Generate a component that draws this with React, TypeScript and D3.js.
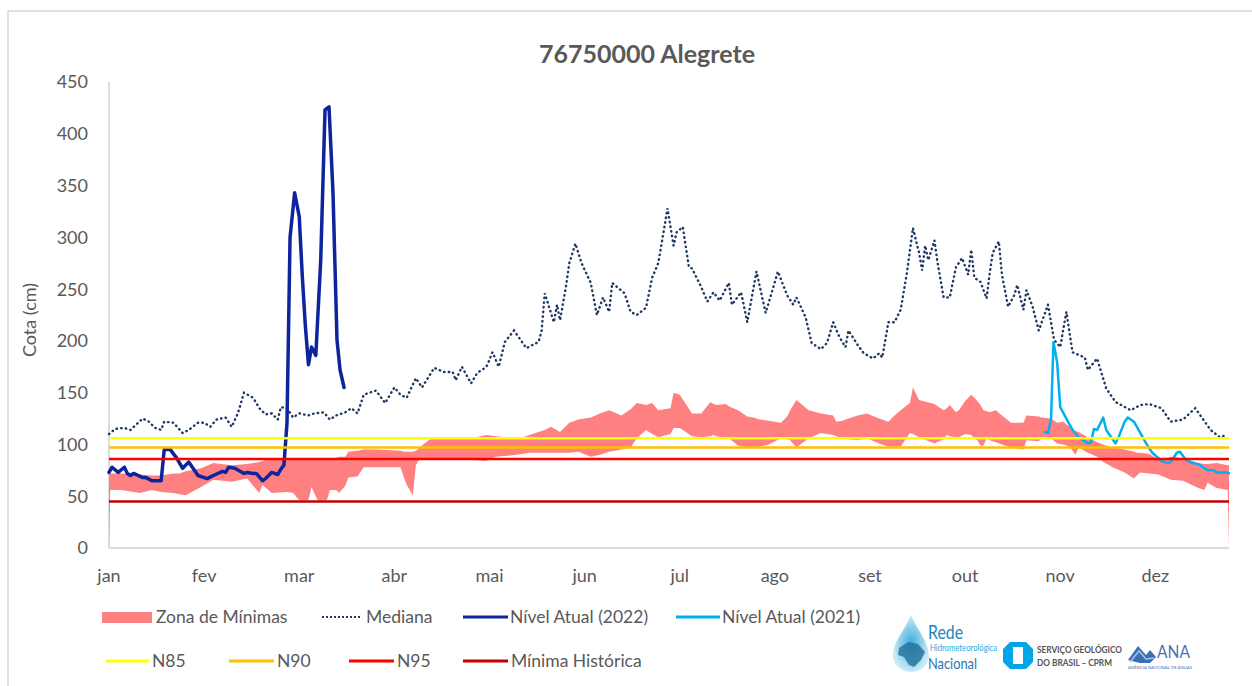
import React, { useEffect, useRef } from 'react';
import * as d3 from 'd3';

// month labels every 31 points, as on the original axis
const MONTHS = ['jan', 'fev', 'mar', 'abr', 'mai', 'jun', 'jul', 'ago', 'set', 'out', 'nov', 'dez'];
const Y_TICKS = [0, 50, 100, 150, 200, 250, 300, 350, 400, 450];

// reference levels (cm)
const N85 = 106;
const N90 = 97;
const N95 = 86;
const MINIMA_HISTORICA = 45;

// [day, value]
const MEDIANA: [number, number][] = [
  [0, 110], [2, 115], [5, 116], [7, 114], [11, 125], [13, 122], [15, 116], [17, 114], [18, 122], [21, 121],
  [24, 111], [26, 114], [29, 121], [31, 121], [33, 117], [35, 124], [38, 126], [40, 117], [42, 130], [44, 150],
  [47, 145], [49, 135], [51, 129], [53, 130], [55, 124], [56, 136], [58, 135], [60, 126], [62, 130], [65, 128],
  [67, 130], [70, 131], [72, 124], [74, 128], [77, 131], [79, 135], [81, 130], [83, 148], [87, 152], [90, 140],
  [93, 155], [95, 148], [97, 145], [100, 164], [102, 155], [106, 174], [109, 170], [112, 170], [113, 162], [115, 175],
  [118, 159], [120, 169], [123, 175], [125, 189], [127, 175], [129, 199], [132, 210], [136, 193], [140, 199], [141, 210],
  [142, 246], [145, 218], [146, 235], [147, 220], [149, 254], [150, 275], [152, 294], [154, 275], [157, 256], [159, 225],
  [161, 242], [163, 228], [164, 256], [168, 246], [170, 228], [172, 225], [175, 232], [177, 261], [179, 275], [181, 310],
  [182, 328], [184, 292], [185, 305], [187, 310], [189, 271], [190, 270], [193, 252], [195, 238], [197, 247], [199, 239],
  [202, 256], [203, 235], [206, 247], [208, 218], [211, 267], [214, 227], [216, 247], [218, 267], [221, 244], [223, 235],
  [224, 242], [227, 223], [229, 198], [232, 192], [234, 198], [236, 218], [238, 204], [240, 194], [241, 210], [244, 196],
  [246, 188], [249, 183], [251, 188], [252, 184], [254, 218], [256, 218], [258, 230], [260, 265], [262, 309], [264, 285],
  [265, 268], [266, 292], [267, 278], [269, 297], [270, 276], [272, 242], [274, 242], [276, 271], [278, 280], [280, 264],
  [281, 288], [282, 261], [284, 257], [286, 241], [287, 265], [288, 285], [290, 296], [291, 264], [293, 233], [295, 244],
  [296, 254], [298, 230], [299, 249], [301, 233], [303, 210], [306, 235], [308, 201], [310, 194], [312, 228], [314, 189],
  [318, 184], [319, 172], [322, 183], [325, 154], [328, 141], [333, 133], [336, 138], [339, 139], [343, 135], [346, 122],
  [350, 124], [354, 135], [359, 114], [362, 107], [364, 109],
];

// Nível Atual (2022), [day, value]
const NIVEL_2022: [number, number][] = [
  [0, 73], [1, 78], [3, 73], [5, 78], [6, 72], [7, 70], [8, 72], [11, 68], [12, 68], [14, 65], [17, 65], [18, 95],
  [20, 95], [22, 87], [24, 77], [26, 83], [29, 70], [32, 67], [34, 70], [37, 74], [38, 73], [39, 78], [41, 77],
  [44, 72], [45, 73], [47, 72], [48, 72], [50, 65], [51, 67], [53, 73], [55, 71], [56, 76], [57, 80], [58, 120],
  [59, 300], [60.5, 343], [62, 320], [63, 262], [64, 214], [65, 177], [66, 194], [67.4, 186], [69, 278], [70.4, 423],
  [71.7, 426], [73, 343], [74.3, 201], [75.3, 172], [76.6, 155],
];

// Nível Atual (2021), [day, value]
const NIVEL_2021: [number, number][] = [
  [305, 112], [306, 111], [307, 124], [307.8, 199], [309, 179], [310, 136], [312, 125], [314, 114], [316, 107],
  [319, 101], [320, 102], [321, 115], [322, 114], [324, 126], [325, 114], [328, 101], [329, 107], [331, 122],
  [332, 126], [334, 122], [335, 117], [338, 101], [340, 92], [343, 84], [345, 82], [346, 83], [348, 92], [349, 93],
  [351, 85], [353, 82], [355, 81], [358, 75], [360, 75], [361, 73], [364, 73], [365, 72],
];

// Zona de Mínimas, [day, low, high]
const ZONA_MINIMAS: [number, number, number][] = [
  [0, 0, 72], [0.4, 56, 72], [4, 56, 72], [8, 54, 72], [10, 53, 71], [14, 56, 70], [17, 54, 70], [21, 53, 72],
  [23, 52, 72], [25, 51, 74], [30, 59, 77], [34, 66, 82], [40, 64, 80], [45, 67, 81], [47, 60, 82], [49, 53, 83],
  [50, 61, 84], [53, 53, 87], [58, 54, 87], [60, 53, 87], [62, 46, 87], [65, 46, 87], [66, 59, 87], [68, 46, 87],
  [71, 46, 87], [72, 56, 87], [74, 56, 87], [75, 53, 88], [77, 60, 88], [78, 68, 93], [81, 69, 94], [83, 78, 95],
  [87, 78, 95], [95, 78, 94], [96, 69, 93], [97, 61, 93], [99, 51, 93], [100, 80, 94], [101, 85, 96], [102, 85, 99],
  [105, 85, 106], [111, 85, 106], [118, 85, 106], [123, 84, 109], [126, 88, 108], [130, 89, 107], [133, 90, 107],
  [135, 91, 107], [137, 92, 109], [140, 92, 112], [142, 92, 114], [144, 92, 117], [147, 92, 112], [150, 92, 121],
  [153, 93, 124], [157, 88, 126], [160, 90, 130], [163, 93, 133], [167, 95, 128], [170, 97, 134], [172, 106, 140],
  [175, 114, 138], [177, 110, 140], [179, 107, 133], [183, 110, 135], [184, 116, 150], [186, 116, 148], [188, 112, 139],
  [190, 108, 130], [193, 107, 130], [196, 108, 141], [197, 109, 139], [198, 108, 138], [201, 106, 139], [202, 106, 137],
  [205, 99, 133], [208, 97, 127], [210, 97, 126], [212, 98, 124], [215, 100, 123], [219, 106, 121], [221, 105, 127],
  [222, 104, 133], [224, 97, 143], [228, 106, 133], [232, 111, 130], [236, 109, 128], [237, 108, 122], [239, 106, 123],
  [241, 105, 125], [244, 104, 128], [247, 106, 130], [251, 101, 125], [254, 98, 122], [256, 98, 128], [258, 98, 133],
  [261, 111, 140], [262, 110, 155], [264, 107, 143], [269, 101, 139], [272, 105, 133], [273, 109, 135], [274, 108, 138],
  [276, 107, 131], [277, 107, 133], [279, 110, 142], [281, 109, 148], [282, 106, 145], [283, 104, 142], [284, 99, 138],
  [285, 99, 133], [286, 106, 132], [287, 104, 131], [289, 102, 133], [291, 100, 128], [294, 97, 121], [298, 95, 121],
  [299, 104, 128], [303, 103, 127], [304, 106, 126], [307, 106, 125], [309, 101, 121], [311, 100, 122], [313, 98, 117],
  [315, 90, 113], [316, 97, 112], [319, 92, 107], [322, 88, 102], [324, 83, 100], [326, 80, 98], [327, 78, 97],
  [331, 73, 95], [334, 67, 93], [335, 70, 92], [336, 73, 92], [339, 72, 91], [342, 71, 85], [346, 66, 88],
  [350, 65, 87], [355, 58, 82], [357, 56, 81], [358, 63, 81], [361, 58, 82], [364.6, 56, 80], [365, 0, 80],
];

const FONT = "Lato, 'Open Sans', sans-serif";
const GREY = '#595959';
const C_ZONA = '#FF8080';
const C_MEDIANA = '#203864';
const C_2022 = '#0E249C';
const C_2021 = '#00B0F0';
const C_N85 = '#FFFF00';
const C_N90 = '#FFC000';
const C_N95 = '#FF0000';
const C_MIN = '#C00000';

const Chart: React.FC = () => {
  const svgRef = useRef<SVGSVGElement>(null);

  useEffect(() => {
    if (!svgRef.current) return;
    const svg = d3.select(svgRef.current);
    svg.selectAll('*').remove();

    const width = 1252;
    const height = 686;
    const plot = { left: 109, right: 1229, top: 82, bottom: 548 };

    svg.attr('width', width).attr('height', height).style('font-family', FONT);

    svg.append('rect').attr('width', width).attr('height', height).attr('fill', '#fff');
    // chart frame
    svg.append('rect')
      .attr('x', 8).attr('y', 11)
      .attr('width', 1270).attr('height', 700)
      .attr('fill', 'none')
      .attr('stroke', '#D9D9D9')
      .attr('stroke-width', 1.5);

    const x = d3.scaleLinear().domain([0, 365]).range([plot.left, plot.right]);
    const y = d3.scaleLinear().domain([0, 450]).range([plot.bottom, plot.top]);

    // title
    svg.append('text')
      .attr('x', 647).attr('y', 63)
      .attr('text-anchor', 'middle')
      .style('font-size', '25px')
      .style('font-weight', 'bold')
      .style('fill', GREY)
      .text('76750000 Alegrete');

    // axes
    svg.append('line')
      .attr('x1', plot.left).attr('x2', plot.left)
      .attr('y1', y(450)).attr('y2', y(0))
      .attr('stroke', '#D0D0D0').attr('stroke-width', 1.5);
    svg.append('line')
      .attr('x1', plot.left).attr('x2', plot.right)
      .attr('y1', y(0)).attr('y2', y(0))
      .attr('stroke', '#D0D0D0').attr('stroke-width', 1.5);

    svg.selectAll('.ytick')
      .data(Y_TICKS)
      .enter()
      .append('text')
      .attr('class', 'ytick')
      .attr('x', 88)
      .attr('y', d => y(d))
      .attr('dy', '0.36em')
      .attr('text-anchor', 'end')
      .style('font-size', '18px')
      .style('fill', GREY)
      .text(d => d);

    svg.selectAll('.xtick')
      .data(MONTHS)
      .enter()
      .append('text')
      .attr('class', 'xtick')
      .attr('x', (_d, i) => x(i * 31))
      .attr('y', 582)
      .attr('text-anchor', 'middle')
      .style('font-size', '18px')
      .style('fill', GREY)
      .text(d => d);

    svg.append('text')
      .attr('transform', 'translate(36, 320) rotate(-90)')
      .attr('text-anchor', 'middle')
      .style('font-size', '18px')
      .style('fill', GREY)
      .text('Cota (cm)');

    // Zona de Mínimas band
    const area = d3.area<[number, number, number]>()
      .x(d => x(d[0]))
      .y0(d => y(d[1]))
      .y1(d => y(d[2]));
    svg.append('path')
      .datum(ZONA_MINIMAS)
      .attr('d', area)
      .attr('fill', C_ZONA);

    const line = d3.line<[number, number]>()
      .x(d => x(d[0]))
      .y(d => y(d[1]));

    svg.append('path')
      .datum(MEDIANA)
      .attr('d', line)
      .attr('fill', 'none')
      .attr('stroke', C_MEDIANA)
      .attr('stroke-width', 2.4)
      .attr('stroke-linecap', 'round')
      .attr('stroke-dasharray', '0.5 4.2');

    svg.append('path')
      .datum(NIVEL_2022)
      .attr('d', line)
      .attr('fill', 'none')
      .attr('stroke', C_2022)
      .attr('stroke-width', 3.5)
      .attr('stroke-linejoin', 'round')
      .attr('stroke-linecap', 'round');

    svg.append('path')
      .datum(NIVEL_2021)
      .attr('d', line)
      .attr('fill', 'none')
      .attr('stroke', C_2021)
      .attr('stroke-width', 2.5)
      .attr('stroke-linejoin', 'round')
      .attr('stroke-linecap', 'round');

    const levels = [
      { v: N85, c: C_N85 },
      { v: N90, c: C_N90 },
      { v: N95, c: C_N95 },
      { v: MINIMA_HISTORICA, c: C_MIN },
    ];
    levels.forEach(l => {
      svg.append('line')
        .attr('x1', x(0)).attr('x2', x(365))
        .attr('y1', y(l.v)).attr('y2', y(l.v))
        .attr('stroke', l.c)
        .attr('stroke-width', 2.5);
    });

    // legend
    const legend = svg.append('g').style('font-size', '17.5px').style('fill', GREY);
    const legendItems = [
      { label: 'Zona de Mínimas', kind: 'rect', color: C_ZONA, x0: 102, x1: 152, tx: 156, ty: 617 },
      { label: 'Mediana', kind: 'dot', color: C_MEDIANA, x0: 322, x1: 362, tx: 366, ty: 617 },
      { label: 'Nível Atual (2022)', kind: 'line', color: C_2022, x0: 463, x1: 508, tx: 510, ty: 617 },
      { label: 'Nível Atual (2021)', kind: 'line', color: C_2021, x0: 676, x1: 720, tx: 722, ty: 617 },
      { label: 'N85', kind: 'line', color: C_N85, x0: 106, x1: 149, tx: 152, ty: 661 },
      { label: 'N90', kind: 'line', color: C_N90, x0: 229, x1: 274, tx: 277, ty: 661 },
      { label: 'N95', kind: 'line', color: C_N95, x0: 349, x1: 394, tx: 397, ty: 661 },
      { label: 'Mínima Histórica', kind: 'line', color: C_MIN, x0: 463, x1: 508, tx: 511, ty: 661 },
    ];
    legendItems.forEach(item => {
      if (item.kind === 'rect') {
        legend.append('rect')
          .attr('x', item.x0).attr('y', item.ty - 5)
          .attr('width', item.x1 - item.x0).attr('height', 11)
          .attr('fill', item.color);
      } else {
        legend.append('line')
          .attr('x1', item.x0).attr('x2', item.x1)
          .attr('y1', item.ty).attr('y2', item.ty)
          .attr('stroke', item.color)
          .attr('stroke-width', item.kind === 'dot' ? 2 : 3)
          .attr('stroke-dasharray', item.kind === 'dot' ? '2 2' : null);
      }
      legend.append('text')
        .attr('x', item.tx).attr('y', item.ty)
        .attr('dy', '0.35em')
        .text(item.label);
    });

    // logos (simplified)
    const logos = svg.append('g');
    const grad = svg.append('defs').append('radialGradient').attr('id', 'drop');
    grad.append('stop').attr('offset', '0%').attr('stop-color', '#3BA9D9');
    grad.append('stop').attr('offset', '100%').attr('stop-color', '#CBEAF7');
    logos.append('path')
      .attr('d', 'M911,615 C905,630 893,642 893,655 C893,665 901,672 911,672 C921,672 929,665 929,655 C929,642 917,630 911,615 Z')
      .attr('fill', 'url(#drop)');
    logos.append('path')
      .attr('d', 'M899,648 L908,642 L918,644 L925,652 L921,660 L914,667 L909,665 L904,657 L898,655 Z')
      .attr('fill', '#1F6F9A')
      .attr('opacity', 0.8);
    logos.append('text').attr('x', 928).attr('y', 639)
      .attr('textLength', 35).attr('lengthAdjust', 'spacingAndGlyphs')
      .style('font-size', '19px').style('fill', '#2384BE').text('Rede');
    logos.append('text').attr('x', 930).attr('y', 651)
      .attr('textLength', 67).attr('lengthAdjust', 'spacingAndGlyphs')
      .style('font-size', '9.5px').style('fill', '#1AAFE6').text('Hidrometeorológica');
    logos.append('text').attr('x', 928).attr('y', 669)
      .attr('textLength', 49).attr('lengthAdjust', 'spacingAndGlyphs')
      .style('font-size', '16px').style('fill', '#2A76B4').text('Nacional');

    logos.append('path')
      .attr('d', 'M1010,642 L1026,642 L1033,649 L1033,662 L1026,669 L1010,669 L1003,662 L1003,649 Z M1013,647 L1013,664 L1023,664 L1023,647 Z')
      .attr('fill', '#00A6E6')
      .attr('fill-rule', 'evenodd');
    logos.append('text').attr('x', 1037).attr('y', 653)
      .attr('textLength', 85).attr('lengthAdjust', 'spacingAndGlyphs')
      .style('font-size', '10px').style('font-weight', 'bold').style('fill', '#555').text('SERVIÇO GEOLÓGICO');
    logos.append('text').attr('x', 1037).attr('y', 666)
      .attr('textLength', 75).attr('lengthAdjust', 'spacingAndGlyphs')
      .style('font-size', '10px').style('font-weight', 'bold').style('fill', '#555').text('DO BRASIL – CPRM');

    logos.append('path')
      .attr('d', 'M1128,660 L1138,646 L1146,655 L1150,650 L1156,657 L1150,663 L1140,663 Z')
      .attr('fill', '#3E6DB5');
    logos.append('path')
      .attr('d', 'M1130,662 L1139,651 L1146,659 L1154,658')
      .attr('fill', 'none').attr('stroke', '#9FC7EA').attr('stroke-width', 1.5);
    logos.append('text').attr('x', 1157).attr('y', 658)
      .attr('textLength', 33).attr('lengthAdjust', 'spacingAndGlyphs')
      .style('font-size', '17px').style('fill', '#4D6FB6').text('ANA');
    logos.append('text').attr('x', 1128).attr('y', 669)
      .attr('textLength', 64).attr('lengthAdjust', 'spacingAndGlyphs')
      .style('font-size', '4px').style('fill', '#4D6FB6').text('AGÊNCIA NACIONAL DE ÁGUAS');
  }, []);

  return <svg ref={svgRef} style={{ position: 'absolute', left: 0, top: 0, display: 'block' }} />;
};

export default function App() {
  return <Chart />;
}
